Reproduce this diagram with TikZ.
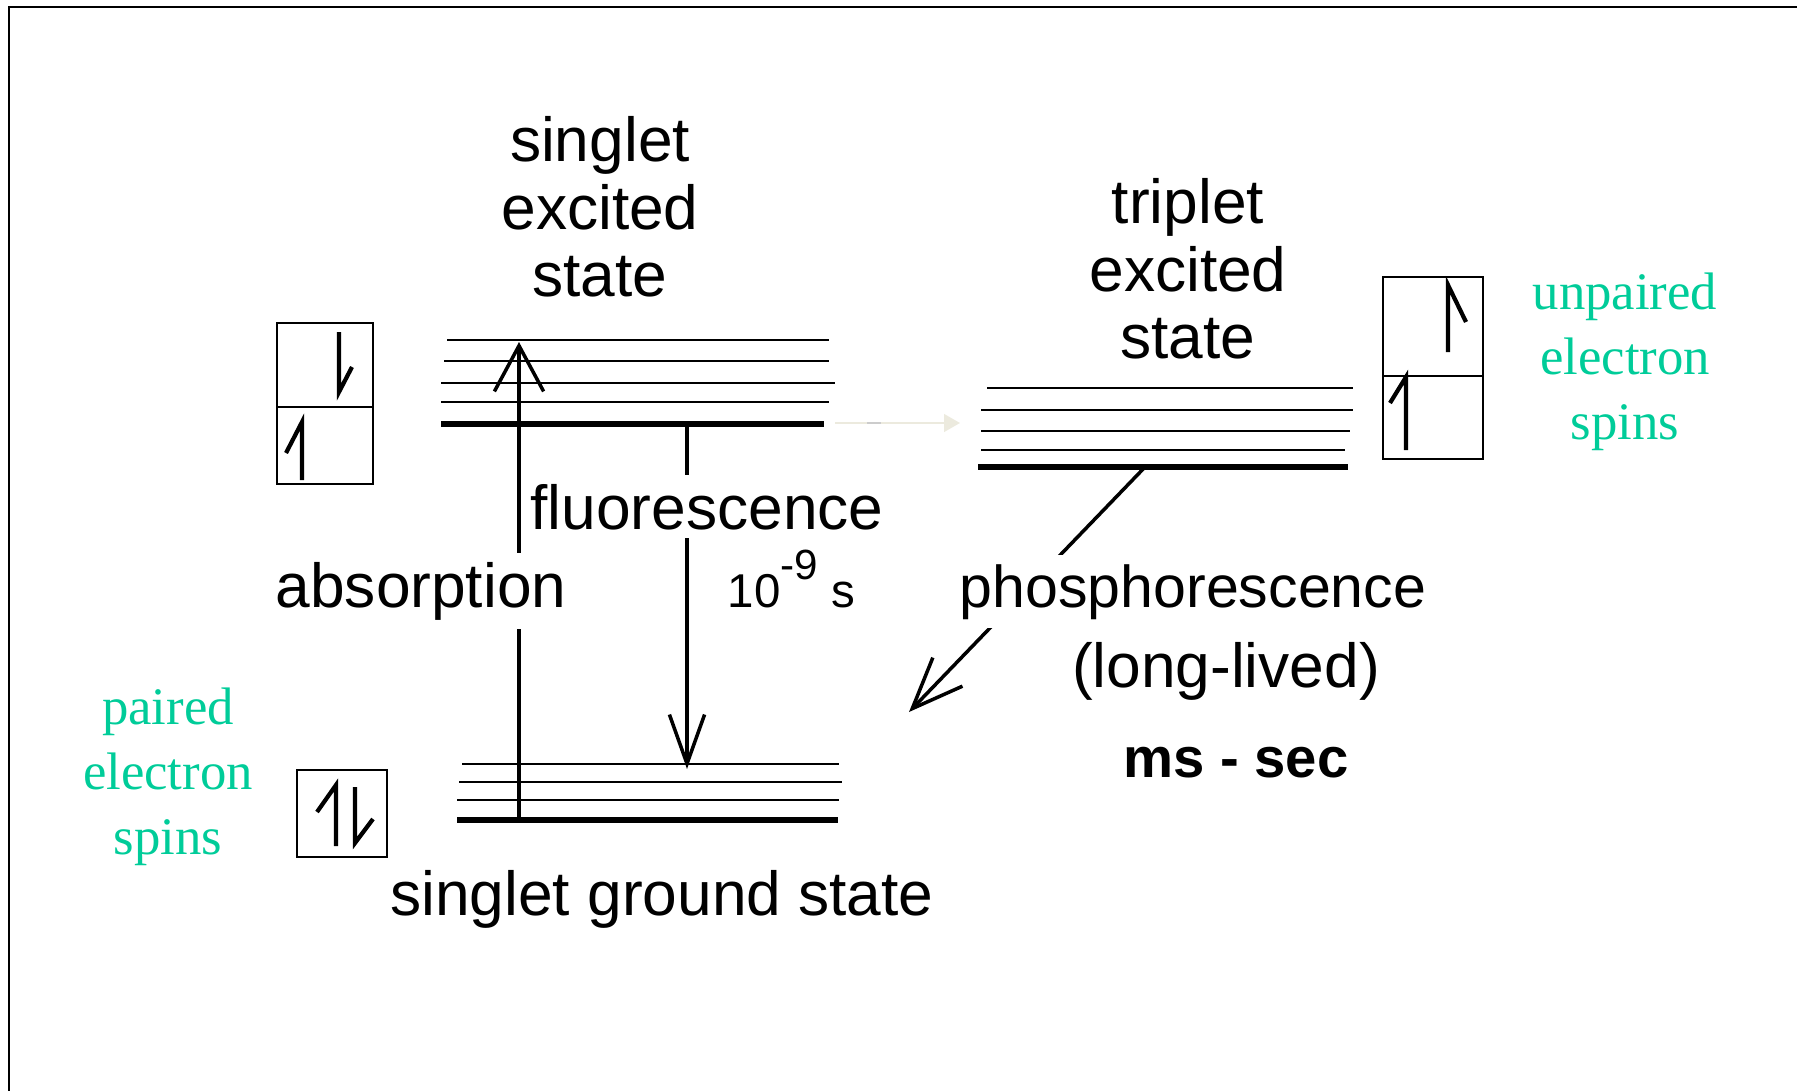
\documentclass[tikz,border=0pt]{standalone}
\usepackage{fontspec}
\setmainfont{Liberation Sans}
\newfontfamily\timesfont{Liberation Serif}
\usetikzlibrary{arrows.meta}
\definecolor{spingreen}{RGB}{0,204,153}
\definecolor{faintline}{RGB}{236,234,222}
\tikzset{
  level/.style={line width=0.6pt},
  lowest/.style={line width=1.5pt},
  spin/.style={line width=1.2pt},
  trans/.style={line width=1pt},
  lbl/.style={font=\fontsize{17.7}{19.2}\selectfont, inner sep=1.5pt},
  gap/.style={lbl, fill=white, inner xsep=1pt, inner ysep=2.5pt},
  note/.style={font=\timesfont\fontsize{15}{18.4}\selectfont, text=spingreen, align=center},
}

\begin{document}
\begin{tikzpicture}[x=0.01cm, y=-0.01cm]
\useasboundingbox (0,0) rectangle (1797,1091);
% frame
\draw[line width=0.8pt] (1797,7) -- (9,7) -- (9,1091);

% singlet excited state
\foreach \yy/\xa/\xb in {340/447/829, 361/444/829, 383/441/835, 402/441/829}
  \draw[level] (\xa,\yy) -- (\xb,\yy);
\draw[lowest] (441,424) -- (824,424);
% triplet excited state
\foreach \yy/\xa/\xb in {388/987/1353, 410/981/1353, 431/981/1350, 450/981/1345}
  \draw[level] (\xa,\yy) -- (\xb,\yy);
\draw[lowest] (978,467) -- (1348,467);
% singlet ground state
\foreach \yy/\xa/\xb in {764/462/839, 782/459/842, 800/457/839}
  \draw[level] (\xa,\yy) -- (\xb,\yy);
\draw[lowest] (457,820) -- (838,820);

% spin boxes
\draw[level] (277,323) rectangle (373,484);
\draw[level] (277,407) -- (373,407);
\draw[spin] (339,332) -- (339,392) -- ++(13,-25);
\draw[spin] (302,480) -- (302,422) -- ++(-16,31);

\draw[level] (297,770) rectangle (387,857);
\draw[spin] (336,846) -- (336,785) -- ++(-19,27);
\draw[spin] (355,787) -- (355,843) -- ++(18,-24);

\draw[level] (1383,277) rectangle (1483,459);
\draw[level] (1383,376) -- (1483,376);
\draw[spin] (1448,352) -- (1448,285) -- ++(18,37);
\draw[spin] (1406,450) -- (1406,377) -- ++(-16,26);

% transitions
\coordinate (gsabs) at (519,820);
\coordinate (s1abs) at (519,342);
\coordinate (s1fluo) at (687,424);
\coordinate (gsfluo) at (687,769);
\coordinate (t1phos) at (1146,466);
\coordinate (gsphos) at (909,712);
\coordinate (s1isc) at (835,423);
\coordinate (t1isc) at (960,423);

\draw[trans, -{Straight Barb[length=13pt,width=14pt]}] (gsabs) -- (s1abs);
\draw[trans, -{Straight Barb[length=14pt,width=10pt]}] (s1fluo) -- (gsfluo);
\draw[trans, -{Straight Barb[length=14.5pt,width=11.7pt]}] (t1phos) -- (gsphos);
\draw[faintline, line width=0.6pt, -{Triangle[length=4.5pt,width=5pt]}] (s1isc) -- (t1isc);
\draw[gray!40, line width=0.6pt] (867,423) -- (881,423);

% labels
\node[lbl, align=center] (s1lbl) at (600,207) {singlet\\excited\\state};
\node[lbl, align=center] (t1lbl) at (1188,269) {triplet\\excited\\state};
\node[lbl, anchor=base] (gslbl) at (662,915) {singlet ground state};
\node[gap, anchor=base] (abslbl) at (421,607) {absorption};
\node[gap, anchor=base] (fluolbl) at (707,529) {fluorescence};
\node[anchor=base west, inner sep=0pt, font=\fontsize{13.5}{15}\selectfont] (fluotime) at (727,607) {10\raisebox{7.7pt}{\fontsize{12}{14}\selectfont -9} s};
\node[gap, anchor=base, font=\fontsize{16.8}{19}\selectfont] (phoslbl) at (1193,607) {phosphorescence};
\node[lbl, anchor=base] (lifelbl) at (1226,687) {(long-lived)};
\node[anchor=base, font=\fontsize{16}{18}\selectfont\bfseries] (phostime) at (1236,777) {ms - sec};

\node[note] (paired) at (168,777) {paired\\electron\\spins};
\node[note] (unpaired) at (1625,362) {unpaired\\electron\\spins};
\end{tikzpicture}
\end{document}
